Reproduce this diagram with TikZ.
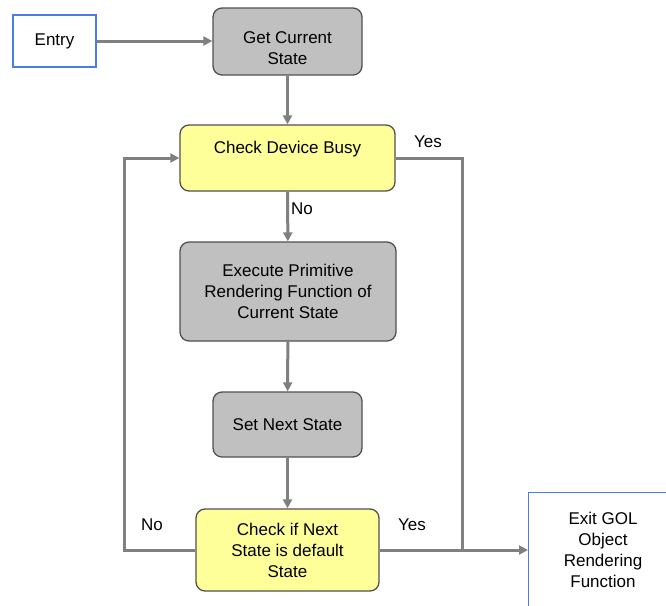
\documentclass[tikz,border=0pt]{standalone}
\usepackage{fontspec}
\setmainfont{Liberation Sans}
\usetikzlibrary{arrows.meta}
\definecolor{boxgray}{HTML}{C0C0C0}
\definecolor{boxyellow}{HTML}{FFFF99}
\definecolor{edgegray}{HTML}{808080}
\definecolor{framedark}{HTML}{505050}
\definecolor{termblue}{HTML}{4A7CF0}
\begin{document}
\begin{tikzpicture}[x=1pt,y=-1pt,
  every node/.style={font=\fontsize{17}{21}\selectfont, align=center, inner sep=0pt},
  procbox/.style={draw=framedark, line width=1.3pt, rounded corners=9pt, fill=boxgray},
  testbox/.style={procbox, fill=boxyellow},
  termbox/.style={draw=termblue, line width=1.2pt, fill=white},
  flow/.style={draw=edgegray, line width=3pt, -{Triangle[length=9pt,width=9pt]}},
  link/.style={draw=edgegray, line width=3pt},
  tag/.style={font=\fontsize{17}{21}\selectfont}]
\useasboundingbox (0,0) rectangle (666,605);
\clip (0,0) rectangle (666,605);

% terminals
\node[termbox, minimum width=83pt, minimum height=52pt] (entry) at (54.5,41) {Entry};
\node[termbox, minimum width=150pt, minimum height=118pt, anchor=north west] (exit) at (528,492) {};
\node (exittext) at (603,550) {Exit GOL\\Object\\Rendering\\Function};

% process steps (the strut drops the first step's text a little below centre)
\node[procbox, minimum width=149pt, minimum height=67pt] (getstate) at (287.5,41.5) {\rule{0pt}{26pt}Get Current\\State};
\node[testbox, minimum width=215pt, minimum height=66pt] (busy) at (287.5,158) {Check Device Busy\\~};
\node[procbox, minimum width=216pt, minimum height=99pt] (exec) at (288,291.5) {Execute Primitive\\Rendering Function of\\Current State};
\node[procbox, minimum width=149pt, minimum height=65pt] (setnext) at (287.5,424.5) {Set Next State};
\node[testbox, minimum width=183pt, minimum height=82pt] (isdefault) at (287.5,550) {Check if Next\\State is default\\State};

% loop-back and exit routing points
\coordinate (loopbot) at (124,550);
\coordinate (looptop) at (124,158);
\coordinate (yestop) at (462,158);
\coordinate (yesbot) at (462,550);

% connectors
\draw[flow] (entry.east) -- (getstate.west |- entry.east);
\draw[flow] (getstate) -- (busy);
\draw[flow] (busy) -- (exec);
\draw[flow] (exec) -- (setnext);
\draw[flow] (setnext) -- (isdefault);
\draw[flow] (isdefault.west) -- (loopbot) -- (looptop) -- (busy.west);
\draw[link] (busy.east) -- (yestop) -- (yesbot);
\draw[flow] (isdefault.east) -- (exit.west |- isdefault.east);

% branch labels
\node[tag] (yesbusy) at (428,142) {Yes};
\node[tag] (nobusy) at (302,209) {No};
\node[tag] (noloop) at (152,525) {No};
\node[tag] (yesdone) at (412,525) {Yes};
\end{tikzpicture}
\end{document}
